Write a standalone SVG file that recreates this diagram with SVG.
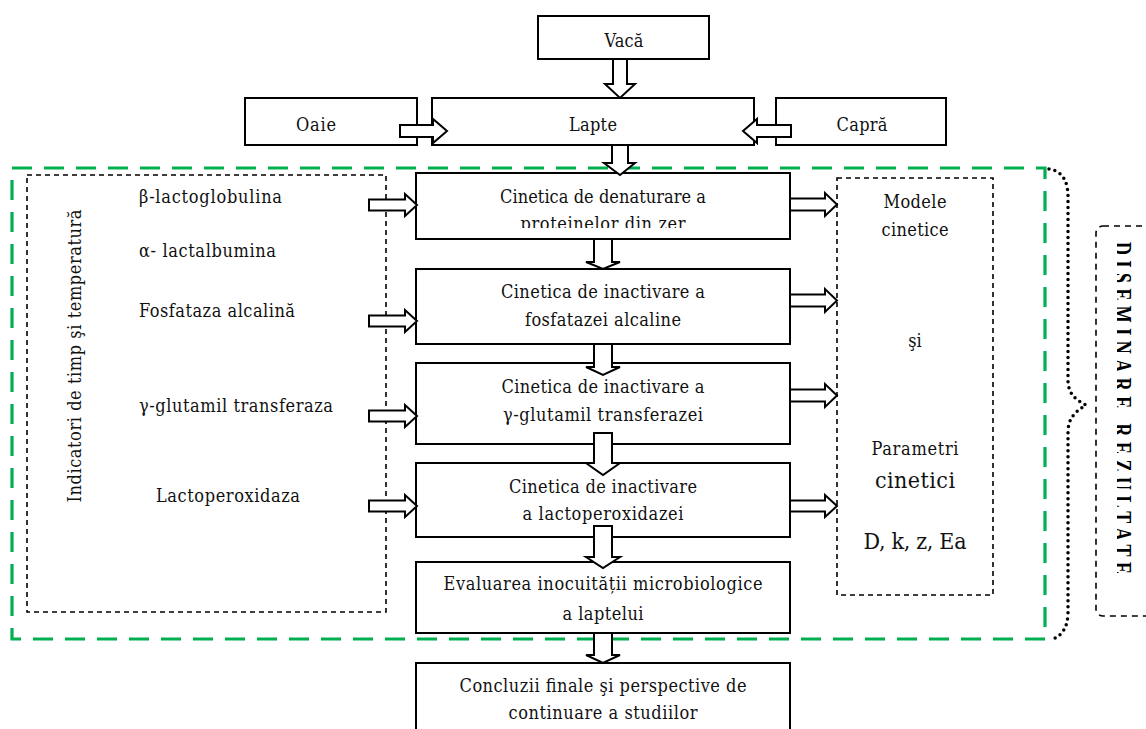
<svg xmlns="http://www.w3.org/2000/svg" width="1146" height="729" viewBox="0 0 1146 729">
<style>
.box{fill:#fff;stroke:#000;stroke-width:2}
.t{font-family:"DejaVu Serif Condensed","DejaVu Serif","Liberation Serif",serif;font-size:18px;fill:#111}
.c{text-anchor:middle}
.arr{fill:#fff;stroke:#000;stroke-width:2;stroke-linejoin:miter}
.dash{fill:none;stroke:#000;stroke-width:1.6;stroke-dasharray:5,4}
.green{fill:none;stroke:#00B050;stroke-width:3.2;stroke-dasharray:20,12}
.dot{fill:none;stroke:#000;stroke-width:3.5;stroke-linecap:round;stroke-dasharray:0,6}
.big{font-size:23px}
.dis{font-family:"Liberation Serif",serif;font-weight:bold;font-size:25px;fill:#000}
</style>
<defs>
<clipPath id="clipZer"><rect x="400" y="180" width="400" height="48"/></clipPath>
<clipPath id="clipDis"><rect x="1117" y="200" width="40" height="430"/></clipPath>
</defs>

<!-- frames -->
<g id="green-frame"><rect class="green" x="12" y="168" width="1033" height="471"/></g>
<g id="brace"><path class="dot" d="M1049,169 C1063,171 1068,182 1068,197 L1068,380 C1068,394 1076,400 1086,405 C1076,411 1068,418 1068,432 L1068,612 C1068,627 1062,637 1050,640"/></g>

<g id="indicators">
<rect class="dash" x="27" y="175" width="359" height="437"/>
<text class="t c" transform="translate(81,356) rotate(-90)" textLength="293" lengthAdjust="spacing">Indicatori de timp şi temperatură</text>
<text class="t" x="139" y="203" textLength="143">β-lactoglobulina</text>
<text class="t" x="139" y="257" textLength="137">α- lactalbumina</text>
<text class="t" x="139" y="317" textLength="156">Fosfataza alcalină</text>
<text class="t" x="139" y="412" textLength="194">γ-glutamil transferaza</text>
<text class="t" x="156" y="502" textLength="144">Lactoperoxidaza</text>
</g>

<g id="models">
<rect class="dash" x="837" y="178" width="156" height="417"/>
<text class="t c" x="915" y="208" textLength="63">Modele</text>
<text class="t c" x="915" y="236" textLength="67">cinetice</text>
<text class="t c" x="915" y="347">şi</text>
<text class="t c" x="915" y="455" textLength="87">Parametri</text>
<text class="t c big" x="915" y="488" textLength="80">cinetici</text>
<text class="t c big" x="915" y="549" textLength="103">D, k, z, Ea</text>
</g>

<g id="diseminare">
<rect x="1096" y="226" width="80" height="390" rx="7" fill="none" stroke="#000" stroke-width="1.6" stroke-dasharray="6,5"/>
<g clip-path="url(#clipDis)">
<text class="dis" transform="translate(1114,242) rotate(90) scale(0.72,1)" letter-spacing="7.6">DISEMINARE REZULTATE</text>
</g>
</g>

<g id="vaca"><rect class="box" x="538" y="16" width="171" height="43"/><text class="t c" x="624" y="47" textLength="39">Vacă</text></g>
<g id="oaie"><rect class="box" x="245" y="98" width="172" height="47"/><text class="t c" x="316" y="131" textLength="40">Oaie</text></g>
<g id="lapte"><rect class="box" x="432" y="98" width="322" height="47"/><text class="t c" x="593" y="131" textLength="48">Lapte</text></g>
<g id="capra"><rect class="box" x="776" y="98" width="170" height="47"/><text class="t c" x="862" y="131" textLength="51">Capră</text></g>

<g id="box1"><rect class="box" x="416" y="173" width="374" height="66"/>
<text class="t c" x="603" y="203" textLength="206">Cinetica de denaturare a</text>
<g clip-path="url(#clipZer)"><text class="t c" x="603" y="230" textLength="165">proteinelor din zer</text></g></g>
<g id="box2"><rect class="box" x="416" y="269" width="374" height="75"/>
<text class="t c" x="603" y="298" textLength="204">Cinetica de inactivare a</text>
<text class="t c" x="603" y="326" textLength="156">fosfatazei alcaline</text></g>
<g id="box3"><rect class="box" x="416" y="363" width="374" height="81"/>
<text class="t c" x="603" y="393" textLength="203">Cinetica de inactivare a</text>
<text class="t c" x="603" y="421" textLength="200">γ-glutamil transferazei</text></g>
<g id="box4"><rect class="box" x="416" y="463" width="374" height="74"/>
<text class="t c" x="603" y="493" textLength="188">Cinetica de inactivare</text>
<text class="t c" x="603" y="520" textLength="161">a lactoperoxidazei</text></g>
<g id="box5"><rect class="box" x="416" y="562" width="374" height="71"/>
<text class="t c" x="603" y="590" textLength="319">Evaluarea inocuității microbiologice</text>
<text class="t c" x="603" y="620" textLength="81">a laptelui</text></g>
<g id="box6"><rect class="box" x="416" y="663" width="374" height="90"/>
<text class="t c" x="603" y="692" textLength="287">Concluzii finale şi perspective de</text>
<text class="t c" x="603" y="719" textLength="189">continuare a studiilor</text></g>

<g id="connectors">
<!-- top -->
<polygon class="arr" points="613,59 627,59 627,84 635,84 620,98 605,84 613,84"/>
<polygon class="arr" points="400,125 433,125 433,119 447,131 433,143 433,137 400,137"/>
<polygon class="arr" points="791,125 757,125 757,119 743,131 757,143 757,137 791,137"/>
<polygon class="arr" points="612,145 628,145 628,163 635,163 620,175 604,163 612,163"/>
<!-- central -->
<polygon class="arr" points="594,239 612,239 612,262 620,262 603,269 586,262 594,262"/>
<polygon class="arr" points="594,344 612,344 612,367 620,367 603,375 586,367 594,367"/>
<polygon class="arr" points="594,433 612,433 612,463 620,463 603,475 586,463 594,463"/>
<polygon class="arr" points="594,526 612,526 612,557 620,557 603,568 586,557 594,557"/>
<polygon class="arr" points="594,633 612,633 612,655 620,655 603,663 586,655 594,655"/>
<!-- left inputs -->
<polygon class="arr" points="369,199.5 405,199.5 405,194 417,205 405,216 405,210.5 369,210.5"/>
<polygon class="arr" points="369,315.5 405,315.5 405,310 417,321 405,332 405,326.5 369,326.5"/>
<polygon class="arr" points="369,410.5 405,410.5 405,405 417,416 405,427 405,421.5 369,421.5"/>
<polygon class="arr" points="369,500.5 405,500.5 405,495 417,506 405,517 405,511.5 369,511.5"/>
<!-- right outputs -->
<polygon class="arr" points="790,198.5 825,198.5 825,193 837,204.5 825,216 825,210.5 790,210.5"/>
<polygon class="arr" points="790,294.5 825,294.5 825,289 837,300.5 825,312 825,306.5 790,306.5"/>
<polygon class="arr" points="790,389.5 825,389.5 825,384 837,395.5 825,407 825,401.5 790,401.5"/>
<polygon class="arr" points="790,500.5 825,500.5 825,495 837,506 825,517 825,511.5 790,511.5"/>
</g>
</svg>
